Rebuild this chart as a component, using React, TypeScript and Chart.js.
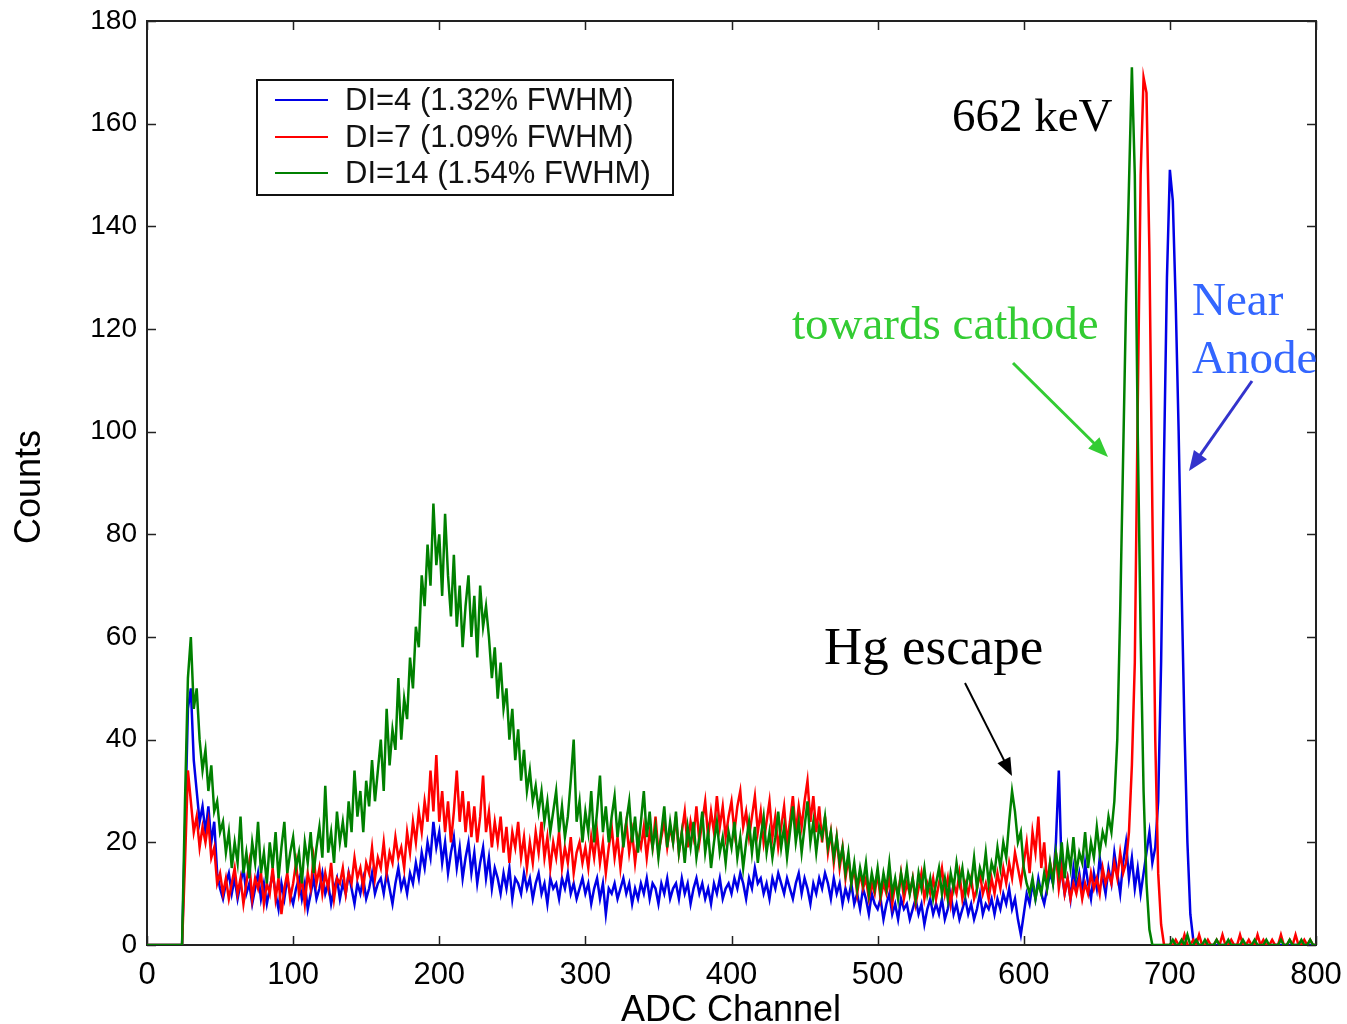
import React, { useEffect, useRef } from "react";
import { Chart, registerables } from "chart.js";

Chart.register(...registerables);

// ADC channel spacing of the samples below (channel = index * CHANNEL_STEP)
const CHANNEL_STEP = 2;
const X_TICKS = [0, 100, 200, 300, 400, 500, 600, 700, 800];
const Y_TICKS = [0, 20, 40, 60, 80, 100, 120, 140, 160, 180];
const SERIES_LABELS = ["DI=4 (1.32% FWHM)", "DI=7 (1.09% FWHM)", "DI=14 (1.54% FWHM)"];
const SERIES_COLORS = ["#0000e6", "#ff0000", "#008000"];

// DI=4 counts, channels 0..800 step 2 (each row = 20 channels)
const DI4 = [
  0, 0, 0, 0, 0, 0, 0, 0, 0, 0, // 0
  0, 0, 0, 22, 46, 50, 36, 30, 24, 27, // 20
  22, 27, 20, 24, 14, 11, 9, 12, 14, 10, // 40
  13, 9, 12, 15, 10, 12, 8, 11, 14, 9, // 60
  12, 8, 11, 14, 10, 7, 12, 9, 13, 10, // 80
  8, 11, 13, 9, 12, 7, 10, 13, 9, 11, // 100
  14, 10, 12, 8, 11, 13, 9, 12, 10, 14, // 120
  11, 8, 12, 10, 13, 9, 11, 14, 10, 12, // 140
  13, 10, 14, 11, 8, 12, 15, 11, 13, 10, // 160
  14, 12, 16, 13, 18, 15, 20, 17, 24, 19, // 180
  22, 16, 20, 14, 18, 21, 15, 19, 13, 17, // 200
  20, 14, 18, 12, 16, 19, 13, 17, 11, 15, // 220
  13, 10, 14, 11, 15, 9, 13, 12, 10, 14, // 240
  11, 13, 9, 12, 14, 10, 12, 8, 13, 11, // 260
  12, 9, 13, 11, 14, 10, 12, 9, 11, 13, // 280
  10, 12, 8, 11, 13, 9, 12, 6, 11, 10, // 300
  12, 9, 11, 13, 10, 12, 8, 11, 9, 12, // 320
  10, 13, 9, 12, 11, 8, 12, 10, 13, 9, // 340
  11, 12, 9, 13, 10, 12, 8, 11, 13, 10, // 360
  12, 9, 11, 8, 12, 10, 13, 9, 11, 12, // 380
  10, 13, 11, 14, 12, 9, 13, 11, 15, 12, // 400
  13, 10, 12, 9, 13, 11, 14, 12, 10, 13, // 420
  11, 9, 12, 14, 10, 13, 11, 8, 12, 10, // 440
  13, 11, 14, 12, 9, 13, 10, 12, 8, 11, // 460
  9, 12, 8, 10, 7, 11, 9, 6, 10, 8, // 480
  7, 9, 5, 8, 10, 6, 8, 5, 9, 7, // 500
  8, 5, 7, 9, 6, 8, 4, 7, 9, 6, // 520
  8, 6, 9, 5, 7, 10, 6, 8, 5, 7, // 540
  9, 6, 8, 5, 7, 10, 6, 8, 7, 9, // 560
  6, 9, 7, 10, 8, 11, 7, 9, 5, 2, // 580
  6, 10, 8, 12, 9, 13, 10, 8, 11, 14, // 600
  12, 20, 34, 14, 10, 13, 9, 15, 11, 14, // 620
  10, 16, 12, 9, 14, 11, 17, 13, 10, 15, // 640
  12, 18, 14, 10, 16, 20, 13, 17, 11, 15, // 660
  10, 14, 18, 22, 16, 19, 28, 55, 95, 130, // 680
  151, 145, 125, 100, 70, 42, 20, 6, 1, 0, // 700
  0, 0, 0, 0, 0, 0, 0, 0, 0, 0, // 720
  0, 0, 0, 0, 0, 0, 0, 0, 0, 0, // 740
  0, 0, 0, 0, 0, 0, 0, 0, 0, 0, // 760
  0, 0, 0, 0, 0, 0, 0, 0, 0, 0, // 780
  0, // 800
];

// DI=7 counts, channels 0..800 step 2
const DI7 = [
  0, 0, 0, 0, 0, 0, 0, 0, 0, 0, // 0
  0, 0, 0, 16, 34, 28, 22, 25, 19, 23, // 20
  20, 24, 17, 19, 12, 14, 10, 13, 9, 12, // 40
  15, 10, 13, 8, 12, 16, 9, 13, 11, 14, // 60
  8, 12, 10, 15, 9, 13, 6, 11, 14, 9, // 80
  12, 16, 10, 13, 8, 14, 11, 17, 12, 15, // 100
  10, 14, 11, 16, 9, 13, 12, 15, 10, 14, // 120
  12, 17, 13, 15, 11, 16, 14, 19, 13, 17, // 140
  15, 20, 14, 18, 16, 21, 17, 19, 15, 22, // 160
  18, 24, 20, 26, 22, 28, 24, 34, 26, 37, // 180
  24, 30, 22, 28, 20, 26, 34, 24, 30, 22, // 200
  28, 21, 27, 20, 25, 33, 22, 26, 19, 24, // 220
  20, 25, 18, 23, 16, 22, 19, 24, 17, 21, // 240
  15, 20, 16, 22, 18, 24, 17, 21, 15, 20, // 260
  17, 22, 15, 19, 16, 21, 14, 18, 20, 16, // 280
  19, 15, 21, 17, 22, 16, 20, 14, 19, 23, // 300
  17, 21, 15, 20, 24, 18, 22, 16, 21, 19, // 320
  23, 17, 22, 19, 25, 18, 21, 24, 19, 23, // 340
  20, 25, 18, 22, 26, 19, 24, 21, 27, 20, // 360
  24, 28, 21, 26, 22, 29, 23, 27, 21, 25, // 380
  28, 22, 27, 30, 23, 26, 21, 25, 29, 22, // 400
  26, 20, 24, 28, 21, 25, 19, 23, 27, 20, // 420
  24, 29, 22, 27, 23, 28, 32, 24, 29, 22, // 440
  27, 20, 25, 18, 22, 16, 21, 15, 19, 13, // 460
  17, 12, 15, 10, 14, 11, 13, 9, 12, 10, // 480
  14, 9, 12, 10, 13, 8, 12, 10, 14, 9, // 500
  12, 10, 13, 8, 11, 14, 9, 12, 10, 13, // 520
  9, 12, 15, 10, 13, 8, 12, 10, 14, 9, // 540
  12, 10, 13, 9, 11, 14, 10, 12, 9, 13, // 560
  10, 14, 11, 15, 12, 16, 13, 18, 15, 12, // 580
  16, 20, 14, 22, 18, 25, 15, 20, 12, 16, // 600
  13, 18, 11, 15, 10, 13, 9, 12, 10, 13, // 620
  9, 12, 10, 14, 11, 13, 10, 15, 12, 14, // 640
  12, 16, 13, 18, 14, 16, 22, 35, 55, 105, // 660
  150, 169, 166, 135, 85, 40, 14, 4, 0, 0, // 680
  0, 0, 1, 0, 0, 2, 0, 0, 1, 0, // 700
  2, 0, 0, 1, 0, 0, 1, 0, 2, 0, // 720
  0, 1, 0, 0, 2, 0, 0, 1, 0, 0, // 740
  2, 0, 1, 0, 0, 1, 0, 0, 2, 0, // 760
  0, 1, 0, 2, 0, 0, 1, 0, 1, 0, // 780
  0, // 800
];

// DI=14 counts, channels 0..800 step 2
const DI14 = [
  0, 0, 0, 0, 0, 0, 0, 0, 0, 0, // 0
  0, 0, 0, 28, 52, 60, 46, 50, 40, 34, // 20
  38, 30, 35, 26, 28, 22, 24, 18, 22, 15, // 40
  20, 16, 25, 14, 18, 13, 20, 16, 24, 14, // 60
  18, 12, 20, 15, 22, 13, 19, 24, 14, 18, // 80
  21, 15, 18, 12, 20, 16, 22, 14, 19, 23, // 100
  17, 31, 18, 22, 16, 26, 20, 24, 19, 28, // 120
  22, 34, 25, 30, 22, 32, 27, 36, 28, 34, // 140
  40, 30, 46, 35, 42, 38, 52, 40, 48, 44, // 160
  56, 50, 62, 58, 72, 66, 78, 70, 86, 74, // 180
  80, 68, 84, 72, 64, 76, 62, 70, 58, 66, // 200
  72, 60, 68, 56, 70, 62, 66, 60, 52, 58, // 220
  48, 55, 46, 50, 40, 46, 36, 42, 32, 38, // 240
  30, 34, 28, 31, 26, 30, 24, 28, 22, 26, // 260
  30, 22, 27, 21, 25, 32, 40, 24, 28, 20, // 280
  26, 22, 30, 20, 26, 33, 22, 27, 20, 25, // 300
  29, 21, 26, 19, 24, 28, 20, 25, 18, 24, // 320
  30, 21, 26, 19, 23, 17, 22, 27, 19, 24, // 340
  20, 26, 18, 22, 16, 23, 19, 24, 17, 21, // 360
  26, 18, 22, 15, 20, 24, 18, 21, 16, 22, // 380
  19, 24, 17, 21, 15, 20, 24, 18, 23, 16, // 400
  21, 25, 18, 22, 17, 21, 26, 19, 23, 17, // 420
  22, 27, 20, 24, 18, 23, 28, 20, 24, 18, // 440
  23, 21, 25, 19, 22, 17, 21, 16, 19, 14, // 460
  18, 12, 16, 11, 15, 12, 16, 10, 14, 11, // 480
  15, 10, 14, 11, 16, 10, 13, 9, 14, 11, // 500
  15, 10, 13, 9, 14, 11, 15, 10, 13, 9, // 520
  12, 15, 10, 13, 9, 14, 11, 16, 12, 15, // 540
  10, 14, 12, 17, 11, 15, 13, 18, 12, 16, // 560
  14, 19, 15, 20, 17, 24, 30, 26, 20, 22, // 580
  15, 12, 10, 13, 9, 12, 10, 14, 11, 16, // 600
  12, 18, 14, 20, 13, 19, 15, 21, 14, 18, // 620
  16, 22, 15, 20, 17, 23, 18, 22, 20, 25, // 640
  22, 28, 40, 65, 95, 125, 148, 171, 150, 100, // 660
  60, 30, 12, 3, 0, 0, 0, 0, 0, 0, // 680
  0, 1, 0, 0, 1, 0, 2, 0, 0, 1, // 700
  0, 0, 1, 0, 0, 0, 1, 0, 0, 0, // 720
  1, 0, 0, 0, 0, 1, 0, 0, 0, 1, // 740
  0, 0, 0, 1, 0, 0, 0, 0, 1, 0, // 760
  0, 1, 0, 0, 0, 1, 0, 0, 1, 0, // 780
  0, // 800
];

const SANS = "'Liberation Sans', Arial, Helvetica, sans-serif";
const SERIF = "'Liberation Serif', 'Times New Roman', Times, serif";

function drawArrow(ctx: CanvasRenderingContext2D, x1: number, y1: number, x2: number, y2: number, color: string, width: number, head: number) {
  const ang = Math.atan2(y2 - y1, x2 - x1);
  ctx.save();
  ctx.strokeStyle = color;
  ctx.fillStyle = color;
  ctx.lineWidth = width;
  ctx.beginPath();
  ctx.moveTo(x1, y1);
  ctx.lineTo(x2 - Math.cos(ang) * head * 0.8, y2 - Math.sin(ang) * head * 0.8);
  ctx.stroke();
  ctx.beginPath();
  ctx.moveTo(x2, y2);
  ctx.lineTo(x2 - head * Math.cos(ang) + (head * 0.4) * Math.sin(ang), y2 - head * Math.sin(ang) - (head * 0.4) * Math.cos(ang));
  ctx.lineTo(x2 - head * Math.cos(ang) - (head * 0.4) * Math.sin(ang), y2 - head * Math.sin(ang) + (head * 0.4) * Math.cos(ang));
  ctx.closePath();
  ctx.fill();
  ctx.restore();
}

const framePlugin = {
  id: "frameTicks",
  beforeDatasetsDraw(chart: any) {
    const { ctx, chartArea } = chart;
    const { left, right, top, bottom } = chartArea;
    const xs = chart.scales.x;
    const ys = chart.scales.y;
    ctx.save();
    ctx.strokeStyle = "#222";
    ctx.lineWidth = 2;
    ctx.strokeRect(left, top, right - left, bottom - top);
    ctx.lineWidth = 1.5;
    ctx.beginPath();
    X_TICKS.forEach((v) => {
      const px = Math.round(xs.getPixelForValue(v)) + 0.5;
      ctx.moveTo(px, bottom);
      ctx.lineTo(px, bottom - 9);
      ctx.moveTo(px, top);
      ctx.lineTo(px, top + 9);
    });
    Y_TICKS.forEach((v) => {
      const py = Math.round(ys.getPixelForValue(v)) + 0.5;
      ctx.moveTo(left, py);
      ctx.lineTo(left + 9, py);
      ctx.moveTo(right, py);
      ctx.lineTo(right - 9, py);
    });
    ctx.stroke();
    ctx.restore();
  },
};

const annotationPlugin = {
  id: "annotations",
  afterDraw(chart: any) {
    const ctx: CanvasRenderingContext2D = chart.ctx;
    ctx.save();
    // axis titles
    ctx.fillStyle = "#000";
    ctx.font = `36px ${SANS}`;
    ctx.textAlign = "center";
    ctx.textBaseline = "alphabetic";
    ctx.fillText("ADC Channel", 731, 1021);
    ctx.save();
    ctx.translate(40, 487);
    ctx.rotate(-Math.PI / 2);
    ctx.fillText("Counts", 0, 0);
    ctx.restore();

    // legend
    ctx.fillStyle = "#fff";
    ctx.fillRect(257, 80, 416, 115);
    ctx.strokeStyle = "#111";
    ctx.lineWidth = 2;
    ctx.strokeRect(257, 80, 416, 115);
    const rows = [100, 137, 173];
    ctx.textAlign = "left";
    ctx.textBaseline = "middle";
    ctx.font = `31px ${SANS}`;
    SERIES_LABELS.forEach((label, i) => {
      ctx.strokeStyle = SERIES_COLORS[i];
      ctx.lineWidth = 2;
      ctx.beginPath();
      ctx.moveTo(275, rows[i]);
      ctx.lineTo(328, rows[i]);
      ctx.stroke();
      ctx.fillStyle = "#111";
      ctx.fillText(label, 345, rows[i] + 1);
    });

    // text annotations
    ctx.textAlign = "left";
    ctx.textBaseline = "alphabetic";
    ctx.fillStyle = "#000";
    ctx.font = `47px ${SERIF}`;
    ctx.fillText("662 keV", 952, 131);
    ctx.fillStyle = "rgb(51,204,51)";
    ctx.font = `47px ${SERIF}`;
    ctx.fillText("towards cathode", 792, 339);
    ctx.fillStyle = "rgb(51,102,255)";
    ctx.fillText("Near", 1192, 315);
    ctx.fillText("Anode", 1192, 373);
    ctx.fillStyle = "#000";
    ctx.font = `53px ${SERIF}`;
    ctx.fillText("Hg escape", 824, 664);

    drawArrow(ctx, 1013, 363, 1108, 457, "rgb(51,204,51)", 3, 20);
    drawArrow(ctx, 1252, 381, 1189, 471, "rgb(51,51,204)", 3, 20);
    drawArrow(ctx, 965, 683, 1012, 776, "#000", 2, 18);
    ctx.restore();
  },
};

function zeroScalePadding(s: any) {
  s.paddingLeft = 0;
  s.paddingRight = 0;
  s.paddingTop = 0;
  s.paddingBottom = 0;
}

export default function App() {
  const canvasRef = useRef<HTMLCanvasElement | null>(null);

  useEffect(() => {
    document.body.style.margin = "0";
    const canvas = canvasRef.current;
    if (!canvas) return;
    const toPoints = (arr: number[]) => arr.map((y, i) => ({ x: i * CHANNEL_STEP, y }));
    const seriesData = [DI4, DI7, DI14];
    const chart = new Chart(canvas, {
      type: "line",
      data: {
        datasets: seriesData.map((arr, i) => ({
          label: SERIES_LABELS[i],
          data: toPoints(arr),
          borderColor: SERIES_COLORS[i],
          backgroundColor: SERIES_COLORS[i],
          borderWidth: 2.5,
          pointRadius: 0,
          tension: 0,
          fill: false,
          order: 3 - i,
        })),
      },
      options: {
        responsive: false,
        animation: false,
        devicePixelRatio: 1,
        layout: { padding: { left: 0, top: 21, right: 31, bottom: 0 } },
        plugins: { legend: { display: false }, tooltip: { enabled: false } },
        scales: {
          x: {
            type: "linear",
            min: 0,
            max: 800,
            afterBuildTicks: (s: any) => {
              s.ticks = X_TICKS.map((v) => ({ value: v }));
            },
            afterFit: (s: any) => {
              s.height = 79;
              zeroScalePadding(s);
            },
            grid: { display: false, drawTicks: false },
            border: { display: false },
            ticks: {
              color: "#000",
              font: { family: SANS, size: 31 },
              padding: 12,
              maxRotation: 0,
              autoSkip: false,
            },
          },
          y: {
            type: "linear",
            min: 0,
            max: 180,
            afterBuildTicks: (s: any) => {
              s.ticks = Y_TICKS.map((v) => ({ value: v }));
            },
            afterFit: (s: any) => {
              s.width = 147;
              zeroScalePadding(s);
            },
            grid: { display: false, drawTicks: false },
            border: { display: false },
            ticks: {
              color: "#000",
              font: { family: SANS, size: 28 },
              padding: 10,
              autoSkip: false,
            },
          },
        },
      },
      plugins: [framePlugin, annotationPlugin],
    });
    return () => chart.destroy();
  }, []);

  return (
    <div style={{ width: 1347, height: 1024, background: "#fff" }}>
      <canvas ref={canvasRef} width={1347} height={1024} style={{ display: "block" }} />
    </div>
  );
}
